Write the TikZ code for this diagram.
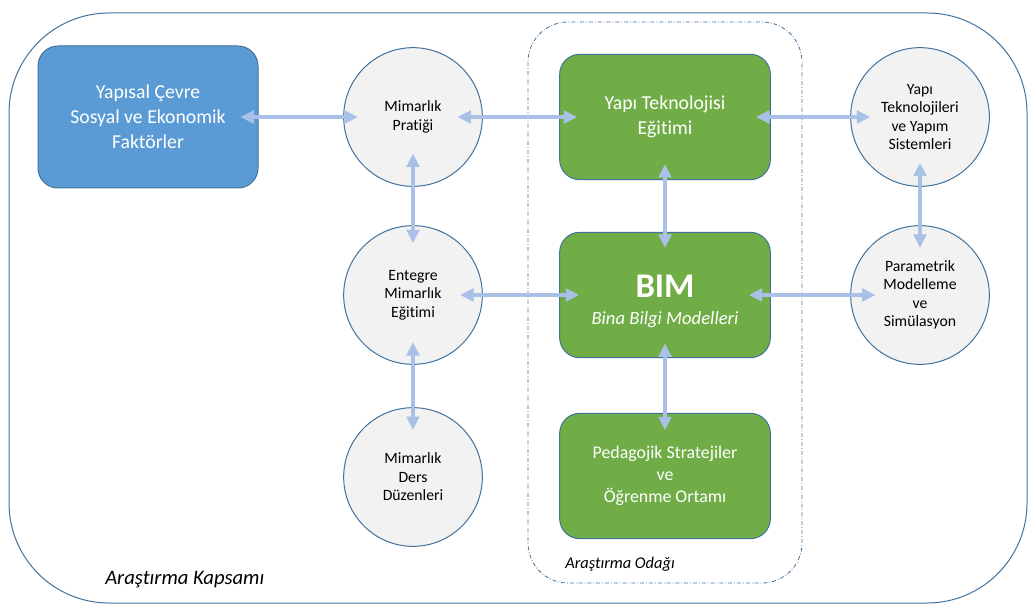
\documentclass[tikz,border=0pt]{standalone}
\usepackage{fontspec}
\setmainfont{Carlito}[Ligatures={NoCommon}]
\usepackage{tikz}
\usetikzlibrary{arrows.meta}
\definecolor{kenar}{HTML}{41719C}
\definecolor{mavi}{HTML}{5B9BD5}
\definecolor{yesil}{HTML}{70AD47}
\definecolor{gri}{HTML}{F2F2F2}
\definecolor{okrenk}{HTML}{A9C1E6}

\begin{document}
\begin{tikzpicture}[x=0.75pt,y=-0.75pt]
		\tikzset{>={Triangle[length=10pt,width=9.5pt]}}
		\tikzset{cember/.style={circle,draw=kenar,line width=0.75pt,fill=gri,minimum size=104pt,inner sep=0pt,align=center,font=\fontsize{11.8}{13.9}\selectfont}}
		\tikzset{kutu/.style={rectangle,rounded corners=15pt,draw=kenar,line width=0.75pt,fill=yesil,text=white,minimum width=158pt,minimum height=94pt,inner sep=0pt,align=center,font=\fontsize{14.8}{18.7}\selectfont}}
		\tikzset{bag/.style 2 args={<->,draw=okrenk,line width=2.4pt,shorten <=-#1pt,shorten >=-#2pt}}
		
		\useasboundingbox (0,0) rectangle (1029,606);
		\draw[kenar,line width=0.75pt,rounded corners=75pt] (9,13) rectangle (1027,603);
		\draw[kenar,line width=0.6pt,rounded corners=30pt,dash pattern=on 3pt off 1.5pt on 0.6pt off 1.5pt] (528,22) rectangle (802,583);
		
		\node[kutu,fill=mavi,minimum width=165pt,minimum height=106.5pt] (yc) at (148,117) {Yapısal Çevre\\Sosyal ve Ekonomik\\Faktörler};
		\node[cember] (mp) at (413,117) {Mimarlık\\Pratiği};
		\node[kutu] (yt) at (665,117) {Yapı Teknolojisi\\Eğitimi};
		\node[cember] (ys) at (920,117) {Yapı\\Teknolojileri\\ve Yapım\\Sistemleri};
		
		\node[cember] (em) at (413,295) {Entegre\\Mimarlık\\Eğitimi};
		\node[kutu,font=\fontsize{14}{20.3}\selectfont] (bim) at (665,295) {{\fontsize{26}{20.3}\selectfont\bfseries\rule{0pt}{26pt}BIM}\\{\itshape Bina Bilgi Modelleri}};
		\node[cember] (pm) at (920,295) {Parametrik\\Modelleme\\ve\\Simülasyon};
		
		\node[cember] (md) at (413,477) {Mimarlık\\Ders\\Düzenleri};
		\node[kutu,font=\fontsize{13.4}{16.5}\selectfont] (ps) at (665,476) {Pedagojik Stratejiler\\ve\\Öğrenme Ortamı};
		
		\node[anchor=base west,inner sep=0pt,font=\fontsize{15.5}{18}\selectfont\itshape] (kapsam) at (105,584) {Araştırma Kapsamı};
		\node[anchor=base west,inner sep=0pt,font=\fontsize{12.3}{14}\selectfont\itshape] (odak) at (565,568) {Araştırma Odağı};
		
		\draw[bag={13.5}{11}] (yc) -- (mp);
		\draw[bag={19}{13.5}] (mp) -- (yt);
		\draw[bag={11}{15}] (yt) -- (ys);
		\draw[bag={25}{13.5}] (mp) -- (em);
		\draw[bag={17}{17}] (em) -- (md);
		\draw[bag={17}{15}] (em) -- (bim);
		\draw[bag={12}{12}] (yt) -- (bim);
		\draw[bag={11}{13}] (bim) -- (ps);
		\draw[bag={16.5}{19}] (bim) -- (pm);
		\draw[bag={18}{17}] (ys) -- (pm);
		
\end{tikzpicture}
\end{document}
